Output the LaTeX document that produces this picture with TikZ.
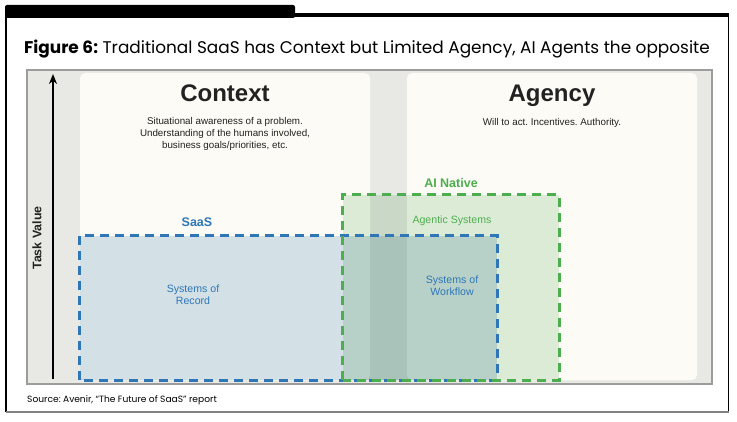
\documentclass[tikz,border=0pt]{standalone}
\usepackage{fontspec}
\setmainfont{Liberation Sans}
\newfontfamily\poppins{Poppins}
\usetikzlibrary{arrows.meta,positioning}
\frenchspacing

\definecolor{panelgray}{HTML}{E8E8E4}
\definecolor{panelline}{HTML}{9C9C9A}
\definecolor{cream}{HTML}{FCFBF5}
\definecolor{saasblue}{HTML}{2E76B6}
\definecolor{saasfill}{HTML}{D6E4EF}
\definecolor{aigreen}{HTML}{4DAE50}
\definecolor{aifill}{HTML}{DFEFDF}
\definecolor{inkgray}{HTML}{222222}

\begin{document}
\begin{tikzpicture}[
    x=1pt, y=-1pt, >=Stealth,
    panelbox/.style={rectangle, draw=panelline, line width=1.2pt, fill=panelgray,
                     minimum width=685pt, minimum height=314pt, inner sep=0pt},
    areabox/.style={rectangle, fill=cream, rounded corners=5pt,
                    minimum width=290pt, minimum height=307pt, inner sep=0pt},
    saasbox/.style={rectangle, fill=saasfill, blend mode=multiply, inner sep=0pt},
    aibox/.style={rectangle, fill=aifill, blend mode=multiply, inner sep=0pt},
    dashline/.style={line width=2.8pt, dash pattern=on 9pt off 6pt},
    headtxt/.style={font=\fontsize{24}{28}\selectfont\bfseries, text=inkgray, inner sep=0pt},
    desctxt/.style={font=\fontsize{9.8}{12}\selectfont, text=inkgray, align=center, inner sep=0pt},
    grouplbl/.style={font=\fontsize{12.5}{14}\selectfont\bfseries, inner sep=0pt, anchor=base},
    syslbl/.style={font=\fontsize{10.6}{12}\selectfont, align=center, inner sep=0pt, anchor=base},
    arr/.style={->, line width=2.8pt, arrows={-Stealth[length=10pt, width=8pt]}}
  ]
    \useasboundingbox (0,0) rectangle (737,422);

    %--- Frame and title ---
    \fill[rounded corners=2pt] (5,5) rectangle (295,18);
    \draw[line width=4pt] (293,15.5) -- (729,15.5);
    \draw[line width=1.2pt] (6,16) -- (6,412);
    \draw[line width=1.4pt] (728.5,16) -- (728.5,412);
    \draw[gray, line width=2.4pt] (6,412) -- (729,412);
    \node[anchor=base, inner sep=0pt] (title) at (367,54)
      {\poppins\fontsize{16.9}{19}\selectfont\textbf{Figure 6:} Traditional SaaS has Context but Limited Agency, AI Agents the opposite};

    %--- Chart panel and the two areas ---
    \node[panelbox] (panel)   at (369.5,227) {};
    \node[areabox]  (context) at (225,226.5) {};
    \node[areabox]  (agency)  at (552,226.5) {};

    \node[headtxt, below=12pt of context.north] (ctxhead) {Context};
    \node[desctxt, below=15pt of ctxhead]       (ctxdesc)
      {Situational awareness of a problem.\\ Understanding of the humans involved,\\ business goals/priorities, etc.};
    \node[headtxt, below=12pt of agency.north]  (aghead)  {Agency};
    \node[desctxt, below=11pt of aghead]        (agdesc)  {Will to act. Incentives. Authority.};

    %--- Task value axis ---
    \coordinate (axisbot) at (53,379);
    \coordinate (axistop) at (53,74);
    \draw[arr] (axisbot) -- (axistop);
    \node[rotate=90, font=\fontsize{12.4}{14}\selectfont\bfseries, text=inkgray, inner sep=0pt]
      (taskval) at (37,238) {Task Value};

    %--- SaaS and AI native boxes ---
    \node[saasbox, minimum width=417pt, minimum height=144pt] (saas)   at (288.5,308) {};
    \node[aibox,   minimum width=216pt, minimum height=185pt] (native) at (451,287.5) {};
    \draw[dashline, saasblue] (saas.south west) rectangle (saas.north east);
    \draw[dashline, aigreen]  (native.south west) rectangle (native.north east);

    \node[grouplbl, text=saasblue] (saaslbl)   at (197,227) {SaaS};
    \node[grouplbl, text=aigreen]  (nativelbl) at (451,188) {AI Native};
    \node[syslbl, text=aigreen]    (agentic)   at (452,224) {Agentic Systems};
    \node[syslbl, text=saasblue]   (workflow)  at (452,296) {Systems of\\ Workflow};
    \node[syslbl, text=saasblue]   (record)    at (193,305) {Systems of\\ Record};

    %--- Source line ---
    \node[anchor=base west, inner sep=0pt] (source) at (27,402)
      {\poppins\fontsize{9.1}{11}\selectfont Source: Avenir, “The Future of SaaS” report};
  \end{tikzpicture}
\end{document}
